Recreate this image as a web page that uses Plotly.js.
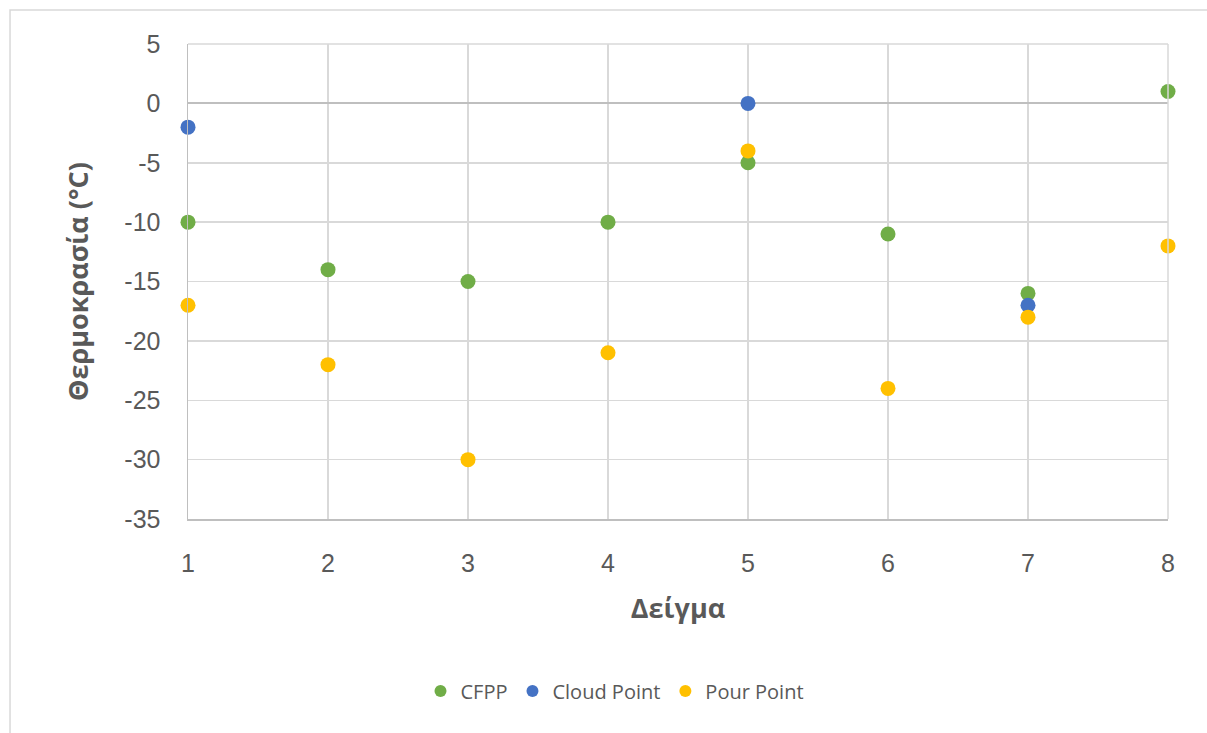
<!DOCTYPE html>
<html>
<head>
<meta charset="utf-8">
<script src="https://cdn.plot.ly/plotly-3.0.1.min.js"></script>
<style>
  html, body { margin: 0; padding: 0; background: #ffffff; }
  #chart { width: 1207px; height: 733px; }
</style>
</head>
<body>
<div id="chart"></div>
<script>
// Sample numbers on the x axis
const samples = [1, 2, 3, 4, 5, 6, 7, 8];

// Temperatures in °C for each sample (null where no measurement)
const cfpp = [-10, -14, -15, -10, -5, -11, -16, 1];
const cloudPoint = [-2, null, null, null, 0, null, -17, null];
const pourPoint = [-17, -22, -30, -21, -4, -24, -18, -12];

const seriesNames = ['CFPP', 'Cloud Point', 'Pour Point'];
const seriesColors = ['#70ad47', '#4472c4', '#ffc000'];
const seriesValues = [cfpp, cloudPoint, pourPoint];

// Y ticks, labelled with a plain hyphen for negatives
const yTicks = [5, 0, -5, -10, -15, -20, -25, -30, -35];
const yTickText = ['5', '0', '-5', '-10', '-15', '-20', '-25', '-30', '-35'];

const xTitle = 'Δείγμα';
const yTitle = 'Θερμοκρασία (°C)';

const traces = seriesValues.map((vals, i) => ({
  type: 'scatter',
  mode: 'markers',
  name: seriesNames[i],
  x: samples,
  y: vals,
  cliponaxis: false,
  marker: { color: seriesColors[i], size: 15, line: { width: 0 } }
}));

const textColor = '#595959';
const titleFont = { family: 'Open Sans, sans-serif', size: 27, color: textColor, weight: 'bold' };
const tickFont = { family: 'Liberation Sans, Arial, sans-serif', size: 25, color: textColor };

const layout = {
  width: 1207,
  height: 733,
  margin: { l: 188, r: 39, t: 44, b: 214, pad: 0 },
  paper_bgcolor: '#ffffff',
  plot_bgcolor: '#ffffff',
  showlegend: true,
  xaxis: {
    range: [1, 8],
    tickvals: samples,
    ticktext: samples.map(String),
    showgrid: true,
    gridcolor: '#d9d9d9',
    gridwidth: 1.5,
    showline: true,
    linecolor: '#bfbfbf',
    linewidth: 1.5,
    zeroline: false,
    ticks: 'outside',
    ticklen: 21,
    tickcolor: 'rgba(0,0,0,0)',
    tickfont: tickFont,
    title: { text: xTitle, font: titleFont, standoff: 23 }
  },
  yaxis: {
    range: [-35, 5],
    tickvals: yTicks,
    ticktext: yTickText,
    showgrid: true,
    gridcolor: '#d9d9d9',
    gridwidth: 1.5,
    showline: true,
    linecolor: '#bfbfbf',
    linewidth: 1.5,
    zeroline: true,
    zerolinecolor: '#bfbfbf',
    zerolinewidth: 2,
    ticks: 'outside',
    ticklen: 21,
    tickcolor: 'rgba(0,0,0,0)',
    tickfont: tickFont,
    title: { text: yTitle, font: titleFont, standoff: 28 }
  },
  legend: {
    orientation: 'h',
    x: 0.4357,
    xanchor: 'center',
    y: -0.362,
    yanchor: 'middle',
    font: { family: 'Open Sans, sans-serif', size: 20, color: textColor },
    itemsizing: 'constant',
    bgcolor: 'rgba(0,0,0,0)'
  },
  shapes: [
    // Plot frame: top and right edges in gridline grey
    { type: 'line', xref: 'paper', yref: 'paper', x0: 0, x1: 1, y0: 1, y1: 1,
      line: { color: '#d9d9d9', width: 1.5 } },
    { type: 'line', xref: 'paper', yref: 'paper', x0: 1, x1: 1, y0: 0, y1: 1,
      line: { color: '#d9d9d9', width: 1.5 } },
    // Outer chart border
    { type: 'rect', xref: 'paper', yref: 'paper', layer: 'below',
      x0: -0.1816, x1: 1.2, y0: -0.6, y1: 1.0716,
      line: { color: '#d9d9d9', width: 1.5 }, fillcolor: 'rgba(0,0,0,0)' }
  ]
};

Plotly.newPlot('chart', traces, layout, { displayModeBar: false, staticPlot: true });
</script>
</body>
</html>
